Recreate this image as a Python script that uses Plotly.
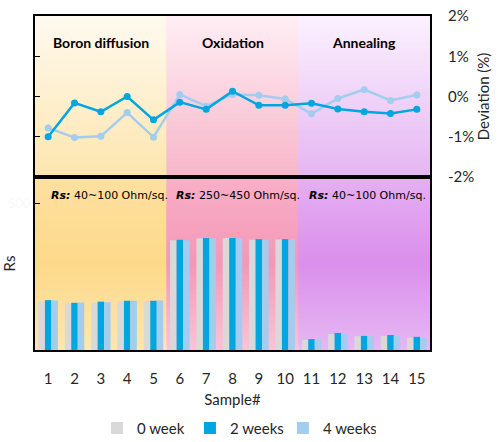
import plotly.graph_objects as go

# samples and data
samples = list(range(1, 16))

# deviation (%) after 2 and 4 weeks
dev_2w = [-1.0, -0.16, -0.38, 0.0, -0.58, -0.14, -0.32, 0.13, -0.22, -0.22,
          -0.17, -0.31, -0.38, -0.42, -0.32]
dev_4w = [-0.78, -1.02, -0.99, -0.4, -1.01, 0.05, -0.24, 0.05, 0.03, -0.06,
          -0.43, -0.05, 0.17, -0.1, 0.04]

# Rs values (axis units)
rs_0w = [167, 160, 161, 167, 167, 374, 381, 382, 376, 377, 35, 54, 47, 48, 42]
rs_2w = [170, 161, 165, 168, 168, 376, 382, 382, 378, 378, 37, 58, 48, 51, 45]
rs_4w = [169, 162, 163, 168, 169, 374, 381, 381, 376, 377, 35, 55, 47, 48, 42]

dev_ticks = [-2, -1, 0, 1, 2]
dev_ticktext = ['-2%', '-1%', '0%', '1%', '2%']

stages = ['Boron diffusion', 'Oxidation', 'Annealing']
stage_centers = [3, 8, 13]
stage_ranges = ['40~100', '250~450', '40~100']
stage_text_x = [1.03, 5.78, 10.84]

FONT = 'Lato'
col_gray = '#d9d9d9'
col_dark = '#00a6e0'
col_light = '#a3cdee'

fig = go.Figure()

# top panel: deviation lines
fig.add_trace(go.Scatter(x=samples, y=dev_4w, mode='lines+markers', showlegend=False,
                         line=dict(color=col_light, width=2.5), marker=dict(size=7, color=col_light),
                         xaxis='x', yaxis='y'))
fig.add_trace(go.Scatter(x=samples, y=dev_2w, mode='lines+markers', showlegend=False,
                         line=dict(color=col_dark, width=2.5), marker=dict(size=7, color=col_dark),
                         xaxis='x', yaxis='y'))

# bottom panel: Rs bars
fig.add_trace(go.Bar(x=samples, y=rs_0w, name='0 week', marker=dict(color=col_gray, line_width=0),
                     xaxis='x2', yaxis='y2'))
fig.add_trace(go.Bar(x=samples, y=rs_2w, name='2 weeks', marker=dict(color=col_dark, line_width=0),
                     xaxis='x2', yaxis='y2'))
fig.add_trace(go.Bar(x=samples, y=rs_4w, name='4 weeks', marker=dict(color=col_light, line_width=0),
                     xaxis='x2', yaxis='y2'))


# gradient backgrounds made of thin bands
def hex_rgb(h):
    h = h.lstrip('#')
    return [int(h[i:i + 2], 16) for i in (0, 2, 4)]


def interp(stops, t):
    for (p0, c0), (p1, c1) in zip(stops[:-1], stops[1:]):
        if p0 <= t <= p1:
            f = (t - p0) / (p1 - p0)
            a, b = hex_rgb(c0), hex_rgb(c1)
            return 'rgb(%d,%d,%d)' % tuple(round(a[i] + (b[i] - a[i]) * f) for i in range(3))
    return stops[-1][1]


grad_top = [
    [(0, '#fde5ae'), (1, '#fffaf0')],
    [(0, '#f7b6ca'), (1, '#ffeef4')],
    [(0, '#e5b5f2'), (1, '#fbf2fe')],
]
grad_bot = [
    [(0, '#fde6b0'), (0.5, '#fdd98a'), (1, '#fee0a0')],
    [(0, '#fac3d5'), (0.5, '#f597b7'), (1, '#f8b0c8')],
    [(0, '#e6b8f3'), (0.5, '#da8fec'), (1, '#e5b0f2')],
]

shapes = []
nb = 60
for k in range(3):
    x0, x1 = 0.5 + 5 * k, 5.5 + 5 * k
    for stops, xr, yr in [(grad_top[k], 'x', 'y domain'), (grad_bot[k], 'x2', 'y2 domain')]:
        for i in range(nb):
            # bands drawn bottom-up, each overlapping the next so no seams show
            shapes.append(dict(type='rect', xref=xr, yref=yr, x0=x0, x1=x1,
                               y0=i / nb, y1=min(1, (i + 3) / nb), layer='below',
                               line=dict(width=0), fillcolor=interp(stops, (i + 0.5) / nb)))

annotations = []
for name, cx in zip(stages, stage_centers):
    annotations.append(dict(text='<b>%s</b>' % name, x=cx, y=0.952, xref='x', yref='paper',
                            showarrow=False, font=dict(family=FONT, size=14, color='black')))
for rng, tx in zip(stage_ranges, stage_text_x):
    annotations.append(dict(text='<b><i>Rs:</i></b> %s Ohm/sq.' % rng, x=tx, y=0.464,
                            xref='x', yref='paper', xanchor='left', showarrow=False,
                            font=dict(family='DejaVu Sans', size=11, color='black')))

split = 0.518
axis_line = dict(showline=True, mirror=True, linewidth=2, linecolor='black', showgrid=False,
                 zeroline=False, automargin=False)

fig.update_layout(
    width=498, height=442,
    margin=dict(l=35, r=68, t=16, b=92, autoexpand=False),
    paper_bgcolor='white', plot_bgcolor='rgba(0,0,0,0)',
    font=dict(family=FONT, size=15, color='#262626'),
    barmode='group', bargap=0.26, bargroupgap=0,
    shapes=shapes, annotations=annotations,
    xaxis=dict(domain=[0, 1], anchor='y', range=[0.5, 15.5], showticklabels=False, ticks='', **axis_line),
    yaxis=dict(domain=[split, 1], anchor='x', range=[-2, 2], tickvals=[-1, 0, 1], ticks='inside',
               ticklen=5, tickcolor='black', showticklabels=False, **axis_line),
    yaxis3=dict(overlaying='y', side='right', range=[-2, 2], tickvals=dev_ticks, ticktext=dev_ticktext,
                ticks='outside', ticklen=14, tickcolor='rgba(0,0,0,0)', showline=False, showgrid=False,
                zeroline=False, automargin=False, ticklabeloverflow='allow',
                tickfont=dict(size=15, color='#262626'),
                title=dict(text='Deviation (%)', standoff=2, font=dict(size=15))),
    xaxis2=dict(domain=[0, 1], anchor='y2', matches='x', range=[0.5, 15.5], tickvals=samples,
                ticks='outside', ticklen=14, tickcolor='rgba(0,0,0,0)', tickfont=dict(size=15),
                title=dict(text='Sample#', standoff=8, font=dict(size=15)), **axis_line),
    yaxis2=dict(domain=[0, split], anchor='x2', range=[0, 590], tickvals=[500], ticktext=['500'],
                ticks='inside', ticklen=5, tickcolor='black', tickfont=dict(size=13, color='#f8f8f8'),
                title=dict(text='Rs', standoff=4, font=dict(size=15)), **axis_line),
    legend=dict(orientation='h', x=0.51, xanchor='center', y=-0.234, yanchor='middle',
                font=dict(size=15), itemwidth=30, entrywidth=48, entrywidthmode='pixels',
                traceorder='normal'),
)

# dummy trace so the right axis gets drawn
fig.add_trace(go.Scatter(x=[None], y=[None], xaxis='x', yaxis='y3', showlegend=False))

# drop the page's default body margin so the figure fills the window
fig.write_html("out.html", config={'displayModeBar': False},
               post_script="document.body.style.margin='0';")
